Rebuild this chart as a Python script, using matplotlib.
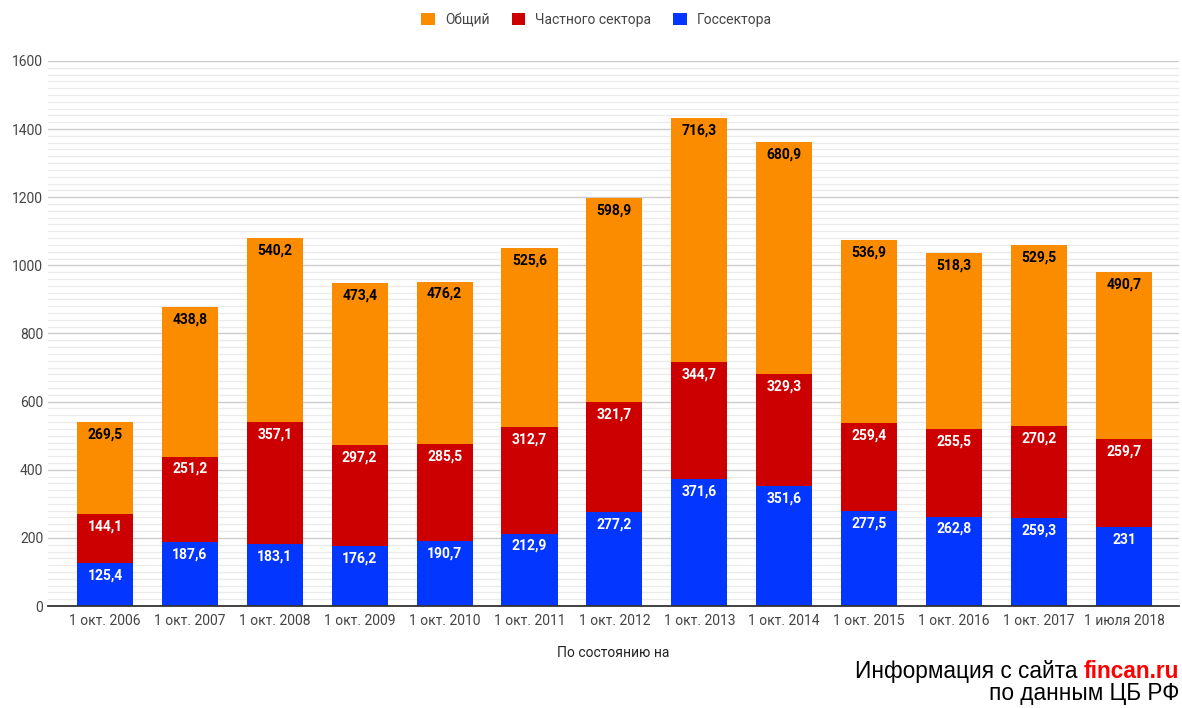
import matplotlib.pyplot as plt
from matplotlib.ticker import MultipleLocator
import numpy as np

plt.rcParams['font.family'] = ['Roboto', 'DejaVu Sans']

dates = ["1 окт. 2006", "1 окт. 2007", "1 окт. 2008", "1 окт. 2009", "1 окт. 2010",
         "1 окт. 2011", "1 окт. 2012", "1 окт. 2013", "1 окт. 2014", "1 окт. 2015",
         "1 окт. 2016", "1 окт. 2017", "1 июля 2018"]
gos = [125.4, 187.6, 183.1, 176.2, 190.7, 212.9, 277.2, 371.6, 351.6, 277.5, 262.8, 259.3, 231]
chast = [144.1, 251.2, 357.1, 297.2, 285.5, 312.7, 321.7, 344.7, 329.3, 259.4, 255.5, 270.2, 259.7]
total = [269.5, 438.8, 540.2, 473.4, 476.2, 525.6, 598.9, 716.3, 680.9, 536.9, 518.3, 529.5, 490.7]

cOrange = "#fb8c00"
cRed = "#cc0000"
cBlue = "#0336ff"

def fmt(v):
    s = ("%.1f" % v).rstrip("0").rstrip(".")
    return s.replace(".", ",")

fig = plt.figure(figsize=(11.82, 7.08), dpi=100)
ax = fig.add_axes([0.0406, 0.144, 0.957, 0.770])

x = np.arange(len(dates))
w = 0.66
b1 = ax.bar(x, gos, w, color=cBlue, label="Госсектора", zorder=3)
b2 = ax.bar(x, chast, w, bottom=gos, color=cRed, label="Частного сектора", zorder=3)
bot2 = [g + c for g, c in zip(gos, chast)]
b3 = ax.bar(x, total, w, bottom=bot2, color=cOrange, label="Общий", zorder=3)

# value labels just under the top of each segment
for i in range(len(x)):
    tops = [(gos[i], gos[i], "white"), (bot2[i], chast[i], "white"),
            (bot2[i] + total[i], total[i], "black")]
    for top, val, col in tops:
        ax.annotate(fmt(val), (x[i], top), xytext=(0, -9), textcoords="offset points",
                    ha="center", va="center", color=col, fontsize=10, fontweight="bold",
                    zorder=4)

ax.set_xlim(-0.67, 12.65)
ax.set_ylim(0, 1600)
ax.yaxis.set_major_locator(MultipleLocator(200))
ax.yaxis.set_minor_locator(MultipleLocator(20))
ax.grid(which="major", axis="y", color="#cccccc", linewidth=1, zorder=0)
ax.grid(which="minor", axis="y", color="#ebebeb", linewidth=1, zorder=0)
ax.set_xticks(x)
ax.set_xticklabels(dates)
ax.tick_params(axis="both", which="both", length=0, labelsize=10, colors="#444444")
ax.tick_params(axis="x", pad=6)
for s in ["top", "right", "left"]:
    ax.spines[s].set_visible(False)
ax.spines["bottom"].set_color("#333333")
ax.spines["bottom"].set_linewidth(1.3)
ax.spines["bottom"].set_zorder(5)

ax.set_xlabel("По состоянию на", fontsize=10, color="#222222", labelpad=13)

ax.legend(handles=[b3, b2, b1], loc="center", bbox_to_anchor=(0.485, 1.075), ncol=3,
          frameon=False, fontsize=10, handlelength=1, handleheight=1, handletextpad=0.7,
          columnspacing=1.6, labelcolor="#444444")

# source note in the lower right corner
fs = 16.3
t1 = fig.text(0.5, 0.0424, "Информация с сайта ", ha="left", va="baseline",
              family="Liberation Sans", fontsize=fs, color="black")
t2 = fig.text(0.5, 0.0424, "fincan.ru", ha="left", va="baseline",
              family="Liberation Sans", fontsize=fs, color="#ff0000", fontweight="bold")
fig.canvas.draw()
r = fig.canvas.get_renderer()
w1 = t1.get_window_extent(renderer=r).width
w2 = t2.get_window_extent(renderer=r).width
right = 1179.0
t1.set_x((right - w2 - w1) / fig.bbox.width)
t2.set_x((right - w2) / fig.bbox.width)
fig.text(right / fig.bbox.width, 0.0113, "по данным ЦБ РФ", ha="right", va="baseline",
         family="Liberation Sans", fontsize=fs, color="black")

fig.savefig("out.png", dpi=100)
